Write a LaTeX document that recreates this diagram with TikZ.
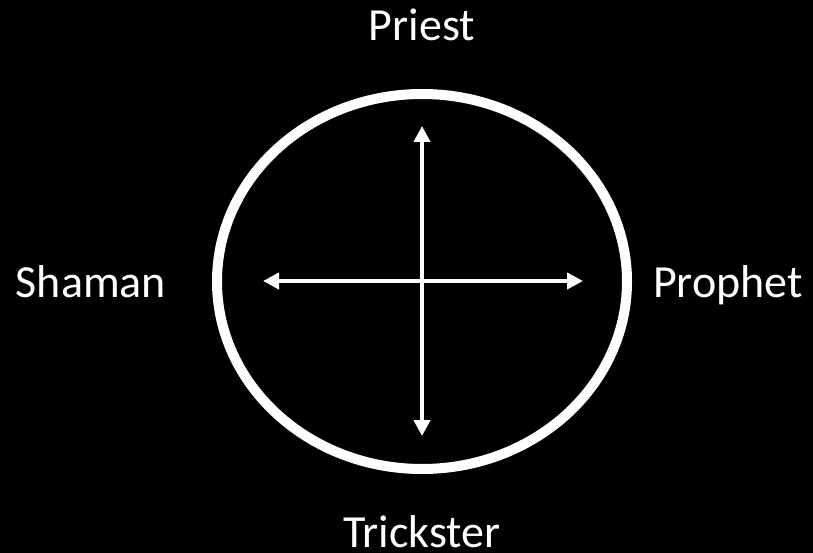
\documentclass[tikz,border=0pt]{standalone}
\usepackage{fontspec}
\setmainfont{Carlito}
\usetikzlibrary{arrows.meta}
\begin{document}
\begin{tikzpicture}[x=1pt,y=-1pt,
  lbl/.style={text=white,font=\fontsize{46}{50}\selectfont,anchor=base,inner sep=0pt},
  axis/.style={draw=white,line width=4pt,{Triangle[length=16pt,width=16pt]}-{Triangle[length=16pt,width=16pt]}},
  ring/.style={draw=white,line width=10pt}]
\fill[black] (0,0) rectangle (813,553);
\useasboundingbox (0,0) rectangle (813,553);
\draw[ring] (422,281.5) ellipse [x radius=205, y radius=187.5];
\coordinate (t) at (422,126);
\coordinate (b) at (422,436);
\coordinate (l) at (263,281);
\coordinate (r) at (583,281);
\draw[axis] (t) -- (b);
\draw[axis] (l) -- (r);
\node[lbl] (priest) at (422,41) {Priest};
\node[lbl] (shaman) at (91,297) {Shaman};
\node[lbl] (prophet) at (728,297) {Prophet};
\node[lbl] (trickster) at (422,547) {Trickster};
\end{tikzpicture}
\end{document}
